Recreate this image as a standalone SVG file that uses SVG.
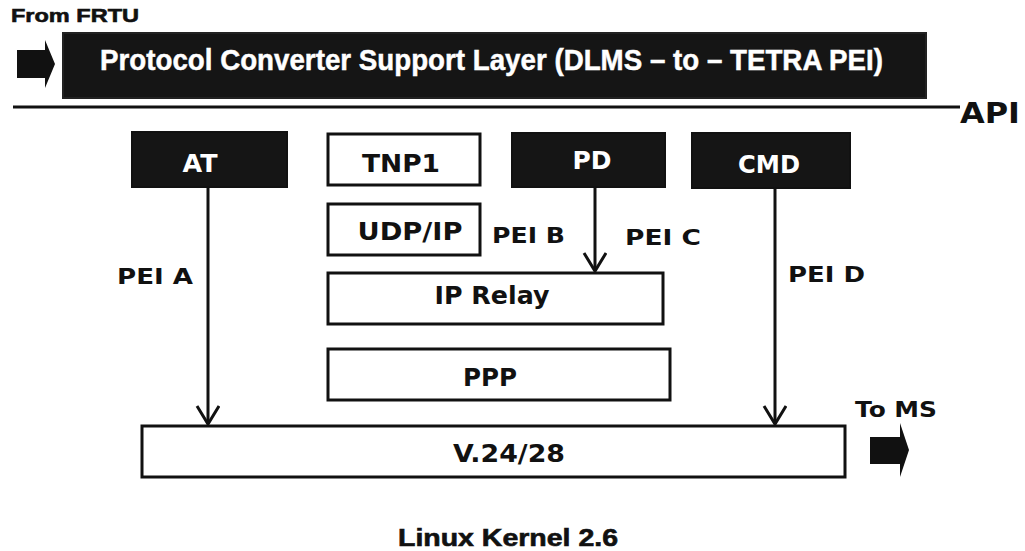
<svg xmlns="http://www.w3.org/2000/svg" width="1025" height="551" viewBox="0 0 1025 551">
<defs>
<style>
.dark{fill:#151515;stroke:#111;stroke-width:2}
.light{fill:#fff;stroke:#111;stroke-width:3}
.wt{fill:#fff;font-family:"DejaVu Sans",Verdana,sans-serif;font-weight:bold;font-size:25px;text-anchor:middle}
.bt{fill:#111;font-family:"DejaVu Sans",Verdana,sans-serif;font-weight:bold;font-size:25px;text-anchor:middle}
.lbl{fill:#111;font-family:"DejaVu Sans",Verdana,sans-serif;font-weight:bold;font-size:22px}
.hv{fill:#111;font-family:"Liberation Sans",Arial,sans-serif;font-weight:bold;stroke:#111;stroke-width:0.6}
.conn{stroke:#111;stroke-width:3;fill:none}
.blk{fill:#111}
</style>
<marker id="ah" markerUnits="userSpaceOnUse" markerWidth="22" markerHeight="26" refX="19" refY="12" orient="auto" viewBox="0 0 22 26">
<path d="M1,1 L19,12 L1,23" fill="none" stroke="#111" stroke-width="3"/>
</marker>
</defs>
<rect width="1025" height="551" fill="#fff"/>

<g id="from-frtu">
<text class="hv" x="11" y="22" font-size="19" textLength="128" lengthAdjust="spacingAndGlyphs">From FRTU</text>
<path class="blk" d="M17,50 L45,50 L45,40 L55,64 L45,88 L45,78 L17,78 Z"/>
</g>

<g id="banner">
<rect x="63" y="33" width="863" height="65" fill="#151515" stroke="#222" stroke-width="2"/>
<text x="100" y="70" fill="#fff" font-family="'Liberation Sans',Arial,sans-serif" font-weight="bold" font-size="30" stroke="#fff" stroke-width="0.5" textLength="783" lengthAdjust="spacingAndGlyphs">Protocol Converter Support Layer (DLMS – to – TETRA PEI)</text>
</g>

<g id="api">
<line x1="13" y1="107" x2="960" y2="107" stroke="#111" stroke-width="3"/>
<text class="lbl" x="960" y="123" style="font-size:28px" textLength="60" lengthAdjust="spacingAndGlyphs">API</text>
</g>

<g id="at">
<rect class="dark" x="132" y="132" width="155" height="55"/>
<text class="wt" x="200" y="172" textLength="35" lengthAdjust="spacingAndGlyphs">AT</text>
</g>
<g id="tnp1">
<rect class="light" x="328" y="134" width="152" height="51"/>
<text class="bt" x="401" y="172" textLength="78" lengthAdjust="spacingAndGlyphs">TNP1</text>
</g>
<g id="pd">
<rect class="dark" x="512" y="133" width="153" height="54"/>
<text class="wt" x="592" y="169" textLength="39" lengthAdjust="spacingAndGlyphs">PD</text>
</g>
<g id="cmd">
<rect class="dark" x="692" y="133" width="158" height="55"/>
<text class="wt" x="769" y="173" textLength="62" lengthAdjust="spacingAndGlyphs">CMD</text>
</g>
<g id="udpip">
<rect class="light" x="328" y="204" width="152" height="51"/>
<text class="bt" x="410" y="240" textLength="105" lengthAdjust="spacingAndGlyphs">UDP/IP</text>
</g>
<g id="iprelay">
<rect class="light" x="328" y="273" width="335" height="51"/>
<text class="bt" x="492" y="304" textLength="115" lengthAdjust="spacingAndGlyphs">IP Relay</text>
</g>
<g id="ppp">
<rect class="light" x="328" y="349" width="342" height="51"/>
<text class="bt" x="490" y="386" textLength="54" lengthAdjust="spacingAndGlyphs">PPP</text>
</g>
<g id="v2428">
<rect class="light" x="142" y="426" width="703" height="51"/>
<text class="bt" x="509" y="462" textLength="112" lengthAdjust="spacingAndGlyphs">V.24/28</text>
</g>

<g id="connectors">
<line class="conn" x1="208" y1="187" x2="208" y2="424" marker-end="url(#ah)"/>
<line class="conn" x1="595" y1="187" x2="595" y2="271" marker-end="url(#ah)"/>
<line class="conn" x1="775" y1="188" x2="775" y2="424" marker-end="url(#ah)"/>
</g>

<g id="labels">
<text class="lbl" x="117" y="284" textLength="76" lengthAdjust="spacingAndGlyphs">PEI A</text>
<text class="lbl" x="492" y="243" textLength="73" lengthAdjust="spacingAndGlyphs">PEI B</text>
<text class="lbl" x="625" y="245" textLength="76" lengthAdjust="spacingAndGlyphs">PEI C</text>
<text class="lbl" x="788" y="282" textLength="77" lengthAdjust="spacingAndGlyphs">PEI D</text>
</g>

<g id="to-ms">
<text class="lbl" x="855" y="417" textLength="82" lengthAdjust="spacingAndGlyphs">To MS</text>
<path class="blk" d="M870,437 L900,437 L900,423 L909,450 L900,477 L900,464 L870,464 Z"/>
</g>

<g id="kernel">
<text class="hv" x="398" y="546" font-size="23" textLength="220" lengthAdjust="spacingAndGlyphs">Linux Kernel 2.6</text>
</g>
</svg>
